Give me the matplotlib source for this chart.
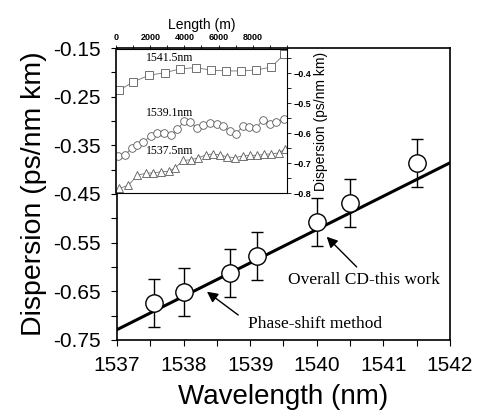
import numpy as np
import matplotlib
matplotlib.use("Agg")
import matplotlib.pyplot as plt

# main plot: overall CD measured at several wavelengths
wavelength = [1537.55, 1538.0, 1538.7, 1539.1, 1540.0, 1540.5, 1541.5]
dispersion = [-0.674, -0.651, -0.612, -0.577, -0.508, -0.468, -0.386]
disp_err = [0.049, 0.049, 0.049, 0.049, 0.049, 0.049, 0.049]

# phase-shift method fit line
fit_wl = [1537, 1542]
fit_disp = [-0.729, -0.386]

# inset: dispersion vs length
len_1541 = [195, 1012, 1950, 2865, 3740, 4650, 5535, 6430, 7310, 8190, 9100, 9840]
cd_1541 = [-0.457, -0.429, -0.407, -0.399, -0.386, -0.382, -0.390, -0.393, -0.393, -0.390, -0.380, -0.338]

len_1539 = [136, 526, 916, 1248, 1598, 2027, 2417, 2807, 3197, 3587, 3977, 4327, 4717,
            5107, 5497, 5887, 6277, 6667, 7018, 7407, 7797, 8187, 8577, 9006, 9396, 9844]
cd_1539 = [-0.677, -0.673, -0.649, -0.640, -0.629, -0.610, -0.600, -0.601, -0.607, -0.588,
           -0.560, -0.562, -0.582, -0.573, -0.566, -0.571, -0.577, -0.593, -0.604, -0.577,
           -0.580, -0.584, -0.558, -0.569, -0.562, -0.554]

len_1537 = [195, 721, 1248, 1735, 2183, 2632, 3099, 3450, 3938, 4366, 4815, 5263, 5653,
            6082, 6511, 6959, 7407, 7836, 8265, 8655, 9103, 9532, 9922]
cd_1537 = [-0.784, -0.774, -0.740, -0.734, -0.732, -0.729, -0.727, -0.716, -0.691, -0.689,
           -0.682, -0.673, -0.669, -0.673, -0.679, -0.682, -0.676, -0.674, -0.674, -0.671,
           -0.669, -0.666, -0.652]

sans = "Liberation Sans"
serif = "Liberation Serif"

fig = plt.figure(figsize=(4.78, 4.19), dpi=100)
ax = fig.add_axes([0.245, 0.189, 0.696, 0.696])

ax.plot(fit_wl, fit_disp, color="black", lw=2.2, zorder=2)
ax.errorbar(wavelength, dispersion, yerr=disp_err, fmt="o", ms=12.5, mfc="white",
            mec="black", mew=1.0, ecolor="black", elinewidth=1.0, capsize=4, zorder=3)

ax.set_xlim(1537, 1542)
ax.set_ylim(-0.75, -0.15)
ax.set_xticks([1537, 1538, 1539, 1540, 1541, 1542])
ax.set_xticks(np.arange(1537.5, 1542, 1.0), minor=True)
ax.set_yticks([-0.75, -0.65, -0.55, -0.45, -0.35, -0.25, -0.15])
ax.set_yticklabels(["-0.75", "-0.65", "-0.55", "-0.45", "-0.35", "-0.25", "-0.15"])
ax.set_yticks(np.arange(-0.70, -0.15, 0.1), minor=True)
ax.tick_params(which="both", direction="out", length=4, width=0.8, labelsize=15, pad=8)
for lab in ax.get_xticklabels() + ax.get_yticklabels():
    lab.set_family(sans)
ax.set_xlabel("Wavelength (nm)", fontsize=20, family=sans, labelpad=6)
ax.set_ylabel("Dispersion (ps/nm km)", fontsize=20.5, family=sans, labelpad=4)
for s in ax.spines.values():
    s.set_linewidth(1.2)

arrow = dict(arrowstyle="-|>", color="black", lw=1.0, mutation_scale=16, shrinkA=0, shrinkB=0)
ax.annotate("", xy=(1540.15, -0.538), xytext=(1540.6, -0.600), arrowprops=arrow)
ax.text(1540.71, -0.627, "Overall CD-this work", fontsize=12.5, family=serif,
        ha="center", va="center")
ax.annotate("", xy=(1538.35, -0.651), xytext=(1538.82, -0.699), arrowprops=arrow)
ax.text(1539.97, -0.717, "Phase-shift method", fontsize=12.5, family=serif,
        ha="center", va="center")

# inset
ins = fig.add_axes([0.243, 0.539, 0.357, 0.344])
ins.plot(len_1541, cd_1541, "s-", color="0.45", lw=0.6, ms=5.5, mfc="white", mec="0.35", mew=0.6)
ins.plot(len_1539, cd_1539, "o-", color="0.45", lw=0.6, ms=5.5, mfc="white", mec="0.35", mew=0.6)
ins.plot(len_1537, cd_1537, "^-", color="0.45", lw=0.6, ms=5.5, mfc="white", mec="0.35", mew=0.6)
ins.set_xlim(0, 10000)
ins.set_ylim(-0.8, -0.32)
ins.xaxis.tick_top()
ins.xaxis.set_label_position("top")
ins.yaxis.tick_right()
ins.yaxis.set_label_position("right")
ins.set_xticks([0, 2000, 4000, 6000, 8000])
ins.set_xticks(np.arange(1000, 10001, 1000), minor=True)
ins.set_yticks([-0.8, -0.7, -0.6, -0.5, -0.4])
ins.set_yticks([-0.75, -0.65, -0.55, -0.45, -0.35], minor=True)
ins.tick_params(which="both", direction="out", length=3, width=0.6, labelsize=6.5, pad=2)
for lab in ins.get_xticklabels() + ins.get_yticklabels():
    lab.set_family(sans)
    lab.set_fontweight("bold")
ins.set_xlabel("Length (m)", fontsize=10, family=sans, labelpad=3)
ins.set_ylabel("Dispersion (ps/nm km)", fontsize=10, family=sans, labelpad=2)
for s in ins.spines.values():
    s.set_linewidth(0.8)
ins.spines["left"].set_linewidth(1.2)
ins.text(3130, -0.350, "1541.5nm", fontsize=8.5, family=serif, ha="center", va="center")
ins.text(3130, -0.532, "1539.1nm", fontsize=8.5, family=serif, ha="center", va="center")
ins.text(3130, -0.660, "1537.5nm", fontsize=8.5, family=serif, ha="center", va="center")

fig.savefig("out.png", dpi=100)
